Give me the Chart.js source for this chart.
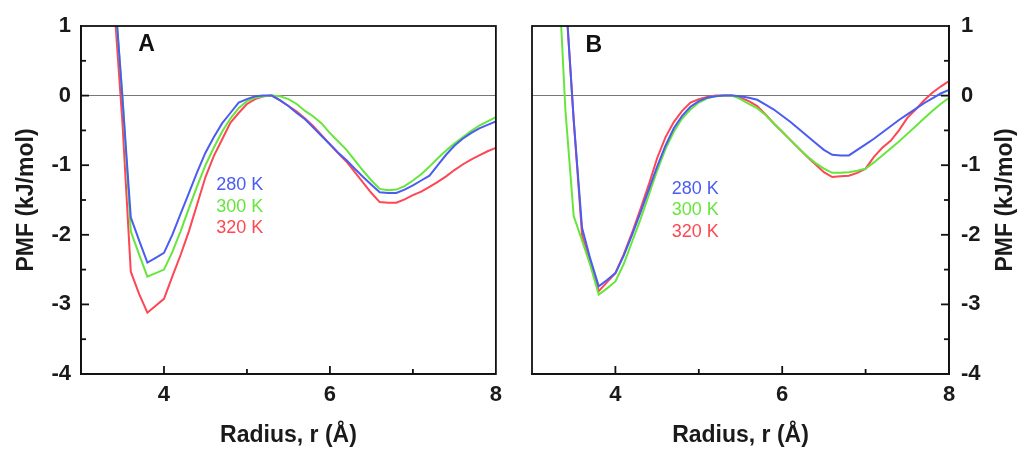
<!DOCTYPE html>
<html>
<head>
<meta charset="utf-8">
<script src="https://cdn.jsdelivr.net/npm/chart.js@4"></script>
<style>
html, body { margin: 0; padding: 0; background: #fff; }
#wrap { position: relative; width: 1017px; height: 449px; }
.panel { position: absolute; top: 0; height: 449px; }
#boxA { left: 0; width: 510px; }
#boxB { left: 510px; width: 507px; }
</style>
</head>
<body>
<div id="wrap">
  <div class="panel" id="boxA"><canvas id="chartA"></canvas></div>
  <div class="panel" id="boxB"><canvas id="chartB"></canvas></div>
</div>
<script>
const FONT = '"Liberation Sans", Arial, Helvetica, sans-serif';
Chart.defaults.font.family = FONT;
Chart.defaults.color = '#1a1a1a';

/* ===== DATA ===== */
const radius = [3.3, 3.4, 3.5, 3.6, 3.7, 3.8, 3.9,
  4.0, 4.1, 4.2, 4.3, 4.4, 4.5, 4.6, 4.7, 4.8, 4.9,
  5.0, 5.1, 5.2, 5.3, 5.4, 5.5, 5.6, 5.7, 5.8, 5.9,
  6.0, 6.1, 6.2, 6.3, 6.4, 6.5, 6.6, 6.7, 6.8, 6.9,
  7.0, 7.1, 7.2, 7.3, 7.4, 7.5, 7.6, 7.7, 7.8, 7.9, 8.0];

const tempLabels = ["280 K", "300 K", "320 K"];
const tempColors = ["#4b5cf0", "#66e63c", "#ff4654"];

// panel A
const pmfA280 = [3.5, 1.6, -0.05, -1.75, -2.08, -2.40, -2.33,
  -2.26, -2.0, -1.7, -1.4, -1.1, -0.82, -0.6, -0.40, -0.25, -0.1,
  -0.05, -0.01, 0.0, 0.0, -0.07, -0.15, -0.25, -0.34, -0.46, -0.58,
  -0.70, -0.82, -0.93, -1.05, -1.17, -1.28, -1.39, -1.40, -1.40, -1.35,
  -1.29, -1.22, -1.15, -1.0, -0.85, -0.72, -0.62, -0.54, -0.47, -0.42, -0.37];
const pmfA300 = [3.2, 1.5, 0.0, -1.95, -2.28, -2.60, -2.55,
  -2.50, -2.25, -1.95, -1.62, -1.30, -1.0, -0.75, -0.52, -0.33, -0.18,
  -0.08, -0.03, -0.01, 0.0, -0.01, -0.05, -0.12, -0.22, -0.30, -0.40,
  -0.54, -0.66, -0.78, -0.93, -1.08, -1.22, -1.34, -1.36, -1.35, -1.30,
  -1.22, -1.13, -1.02, -0.90, -0.79, -0.69, -0.60, -0.51, -0.43, -0.37, -0.31];
const pmfA320 = [3.0, 1.3, -0.4, -2.53, -2.85, -3.12, -3.02,
  -2.92, -2.6, -2.29, -1.95, -1.56, -1.17, -0.87, -0.63, -0.39, -0.25,
  -0.12, -0.05, -0.01, 0.0, -0.07, -0.15, -0.23, -0.33, -0.44, -0.57,
  -0.70, -0.83, -0.95, -1.10, -1.25, -1.40, -1.53, -1.54, -1.54, -1.49,
  -1.43, -1.38, -1.31, -1.24, -1.16, -1.07, -0.99, -0.92, -0.86, -0.80, -0.75];

// panel B
const pmfB280 = [4.0, 1.5, -0.35, -1.9, -2.35, -2.74, -2.65,
  -2.55, -2.3, -2.0, -1.68, -1.35, -1.02, -0.72, -0.47, -0.29, -0.16,
  -0.08, -0.03, -0.01, 0.0, 0.0, -0.01, -0.03, -0.06, -0.13, -0.2,
  -0.29, -0.38, -0.48, -0.58, -0.68, -0.78, -0.85, -0.86, -0.86, -0.78,
  -0.7, -0.62, -0.53, -0.44, -0.35, -0.27, -0.19, -0.11, -0.04, 0.03, 0.08];
const pmfB300 = [2.2, -0.2, -1.73, -2.08, -2.44, -2.86, -2.77,
  -2.67, -2.42, -2.1, -1.78, -1.43, -1.08, -0.77, -0.52, -0.33, -0.2,
  -0.1, -0.04, -0.01, 0.0, 0.0, -0.05, -0.12, -0.18, -0.28, -0.4,
  -0.52, -0.64, -0.76, -0.87, -0.97, -1.05, -1.11, -1.11, -1.10, -1.08,
  -1.05, -0.96, -0.86, -0.76, -0.66, -0.55, -0.44, -0.33, -0.22, -0.12, -0.03];
const pmfB320 = [4.0, 1.5, -0.35, -2.0, -2.42, -2.81, -2.68,
  -2.55, -2.28, -1.97, -1.63, -1.28, -0.9, -0.6, -0.38, -0.22, -0.1,
  -0.05, -0.02, 0.0, 0.0, 0.0, -0.03, -0.08, -0.15, -0.27, -0.4,
  -0.52, -0.64, -0.76, -0.88, -0.99, -1.1, -1.17, -1.16, -1.15, -1.11,
  -1.05, -0.88, -0.75, -0.65, -0.5, -0.32, -0.2, -0.07, 0.04, 0.13, 0.21];

const xLabelsShown = [4, 6, 8];
const yLabelsShown = [1, 0, -1, -2, -3, -4];

/* ===== HELPERS ===== */
const toPoints = vals => radius.map((r, i) => ({ x: r, y: vals[i] }));

const framePlugin = {
  id: "frame",
  afterDraw(chart, args, o) {
    const { ctx, chartArea: a, scales: { x, y } } = chart;
    ctx.save();
    ctx.strokeStyle = "#111";
    ctx.lineWidth = 1.8;

    // inward tick marks
    x.ticks.forEach(t => {
      if (t.value <= x.min || t.value >= x.max) return;
      const px = x.getPixelForValue(t.value);
      const len = t.value % 2 === 0 ? 8 : 5;
      ctx.beginPath(); ctx.moveTo(px, a.bottom); ctx.lineTo(px, a.bottom - len); ctx.stroke();
    });
    const x0 = o.side === "left" ? a.left : a.right;
    const dir = o.side === "left" ? 1 : -1;
    y.ticks.forEach(t => {
      if (t.value <= y.min || t.value >= y.max) return;
      const py = y.getPixelForValue(t.value);
      const len = Number.isInteger(t.value) ? 8 : 5;
      ctx.beginPath(); ctx.moveTo(x0, py); ctx.lineTo(x0 + dir * len, py); ctx.stroke();
    });

    ctx.strokeRect(a.left, a.top, a.right - a.left, a.bottom - a.top);

    // panel letter
    ctx.fillStyle = "#111";
    ctx.font = "bold 23px " + FONT;
    ctx.textAlign = "center";
    ctx.textBaseline = "middle";
    ctx.fillText(o.letter, x.getPixelForValue(o.letterAt[0]), y.getPixelForValue(o.letterAt[1]));

    // in-panel legend
    ctx.font = "18px " + FONT;
    ctx.textAlign = "left";
    const lx = x.getPixelForValue(o.legendAt[0]);
    const ly = y.getPixelForValue(o.legendAt[1]);
    chart.data.datasets.forEach((ds, i) => {
      ctx.fillStyle = ds.borderColor;
      ctx.fillText(ds.label, lx, ly + i * 21.5);
    });

    // right-hand axis title, reading bottom to top
    if (o.sideTitle) {
      ctx.fillStyle = "#1a1a1a";
      ctx.font = "bold 23px " + FONT;
      ctx.textAlign = "center";
      ctx.translate(chart.width - 11, (a.top + a.bottom) / 2);
      ctx.rotate(-Math.PI / 2);
      ctx.fillText(o.sideTitle, 0, 0);
    }
    ctx.restore();
  }
};

function makePanel(el, series, side, letter, letterAt, legendAt) {
  return new Chart(document.getElementById(el), {
    type: "line",
    data: {
      datasets: series.map((vals, i) => ({
        label: tempLabels[i],
        data: toPoints(vals),
        borderColor: tempColors[i],
        borderWidth: 2,
        pointRadius: 0,
        tension: 0,
        fill: false
      }))
    },
    options: {
      responsive: true,
      maintainAspectRatio: false,
      animation: false,
      layout: {
        padding: side === "left"
          ? { left: 0, right: 12, top: 26, bottom: 0 }
          : { left: 22, right: 0, top: 26, bottom: 0 }
      },
      plugins: {
        legend: { display: false },
        tooltip: { enabled: false },
        frame: {
          side, letter, letterAt, legendAt,
          sideTitle: side === "right" ? "PMF (kJ/mol)" : null
        }
      },
      scales: {
        x: {
          type: "linear",
          min: 3, max: 8,
          ticks: {
            stepSize: 1,
            autoSkip: false,
            maxRotation: 0,
            padding: 8,
            color: "#1a1a1a",
            font: { size: 22, weight: "bold" },
            callback: v => xLabelsShown.includes(v) ? v : ""
          },
          grid: { drawOnChartArea: false, drawTicks: false },
          border: { display: true, color: "#111", width: 1.8 },
          title: {
            display: true,
            text: "Radius, r (Å)",
            color: "#1a1a1a",
            font: { size: 23, weight: "bold" },
            padding: 0
          },
          afterFit: s => { s.height = 75; }
        },
        y: {
          position: side,
          min: -4, max: 1,
          ticks: {
            stepSize: 0.5,
            autoSkip: false,
            padding: side === "left" ? 10 : 12,
            color: "#1a1a1a",
            font: { size: 22, weight: "bold" },
            callback: v => yLabelsShown.includes(v) ? v : ""
          },
          grid: {
            drawTicks: false,
            lineWidth: 1,
            color: c => c.tick && c.tick.value === 0 ? "#777" : "rgba(0,0,0,0)"
          },
          border: { display: true, color: "#111", width: 1.8 },
          title: {
            display: side === "left",
            text: "PMF (kJ/mol)",
            color: "#1a1a1a",
            font: { size: 23, weight: "bold" },
            padding: { top: 13, bottom: 0 }
          },
          afterFit: s => { s.width = side === "left" ? 81 : 68; }
        }
      }
    },
    plugins: [framePlugin]
  });
}

makePanel("chartA", [pmfA280, pmfA300, pmfA320], "left", "A", [3.79, 0.73], [4.63, -1.29]);
makePanel("chartB", [pmfB280, pmfB300, pmfB320], "right", "B", [3.74, 0.72], [4.675, -1.34]);
</script>
</body>
</html>
